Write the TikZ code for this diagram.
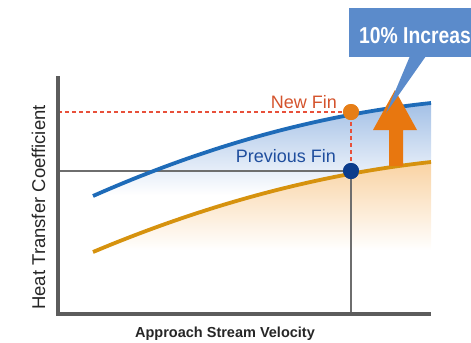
\documentclass[tikz,border=0pt]{standalone}
\usepackage{fontspec}
\setmainfont{Liberation Sans}
\usetikzlibrary{positioning}

\definecolor{newblue}{HTML}{1E6BB8}
\definecolor{prevorange}{HTML}{D6920E}
\definecolor{fillblue}{HTML}{A3C0E6}
\definecolor{fillorange}{HTML}{F9D3A3}
\definecolor{dotorange}{HTML}{E67E17}
\definecolor{dotnavy}{HTML}{0B3C8C}
\definecolor{markred}{HTML}{E8503A}
\definecolor{newtext}{HTML}{D4532C}
\definecolor{prevtext}{HTML}{1F4E9E}
\definecolor{axisgray}{HTML}{5C5C5C}
\definecolor{guidegray}{HTML}{6E6E6E}
\definecolor{uporange}{HTML}{E8770F}
\definecolor{calloutblue}{HTML}{5B8BCB}

\pgfdeclareverticalshading{bluefade}{100bp}{color(0bp)=(white); color(44bp)=(white); color(75bp)=(fillblue); color(100bp)=(fillblue)}
\pgfdeclareverticalshading{orangefade}{100bp}{color(0bp)=(white); color(29bp)=(white); color(75bp)=(fillorange); color(100bp)=(fillorange)}

\begin{document}
\begin{tikzpicture}[
x=1bp, y=-1bp,
axis/.style={line width=3.5bp, draw=axisgray},
guide/.style={line width=1.3bp, draw=guidegray},
marker/.style={line width=1.5bp, draw=markred, dash pattern=on 4bp off 3bp},
fincurve/.style={line width=3.8bp},
findot/.style={circle, inner sep=0pt, minimum size=16bp},
finlabel/.style={inner sep=0pt, font=\fontsize{18bp}{20bp}\selectfont},
axislabel/.style={inner sep=0pt, text=black!85}
]
\useasboundingbox (0,0) rectangle (471,342);

%Fills
\shade[shading=bluefade] (93,196) .. controls (206,146) and (318,115) .. (431,103) -- (431,162) .. controls (318,174.4) and (206,204.5) .. (93,252) -- cycle;
\shade[shading=orangefade] (93,252) .. controls (206,204.5) and (318,174.4) .. (431,162) -- (431,258) -- (93,258) -- cycle;

%Axes
\coordinate (O)    at (58,314);
\coordinate (Ytop) at (58,76);
\coordinate (Xend) at (431,314);

%Nodes
\node[findot, fill=dotorange] (NF) at (351,112) {};
\node[findot, fill=dotnavy]   (PF) at (351,171) {};
\node[finlabel, text=newtext, anchor=base east]  (NFlabel) at (337,108) {New Fin};
\node[finlabel, text=prevtext, anchor=base east] (PFlabel) at (336,162) {Previous Fin};
\node[axislabel, font=\bfseries\fontsize{14.5bp}{16bp}\selectfont, anchor=base] (Xlabel) at (225,337) {Approach Stream Velocity};
\node[axislabel, font=\fontsize{18.5bp}{20bp}\selectfont, rotate=90, anchor=base] (Ylabel) at (45,207.5) {Heat Transfer Coefficient};

%Lines
\draw[guide] (O |- PF) -- (PF);
\draw[guide] (PF) -- (PF |- O);
\draw[marker] (O |- NF) -- (NF);
\draw[marker, shorten <=2bp, shorten >=2bp] (NF) -- (PF);
\draw[fincurve, draw=prevorange] (93,252) .. controls (206,204.5) and (318,174.4) .. (431,162);
\draw[fincurve, draw=newblue] (93,196) .. controls (206,146) and (318,115) .. (431,103);
\draw[axis] (Ytop) -- (O) -- (Xend);
\node[findot, fill=dotorange] at (NF) {};
\node[findot, fill=dotnavy] at (PF) {};

%Increase
\fill[uporange] (389,166) -- (389,130) -- (373,130) -- (395,90) -- (417,130) -- (403,130) -- (403,166) -- cycle;
\fill[calloutblue] (349,8) rectangle (490,57);
\fill[calloutblue] (410,56) -- (426,56) -- (386,113) -- cycle;
\node[inner sep=0pt, text=white, font=\bfseries\fontsize{23bp}{25bp}\selectfont, anchor=base west] (Inc) at (359,43) {\scalebox{0.84}[1]{10\% Increase}};
\end{tikzpicture}
\end{document}
